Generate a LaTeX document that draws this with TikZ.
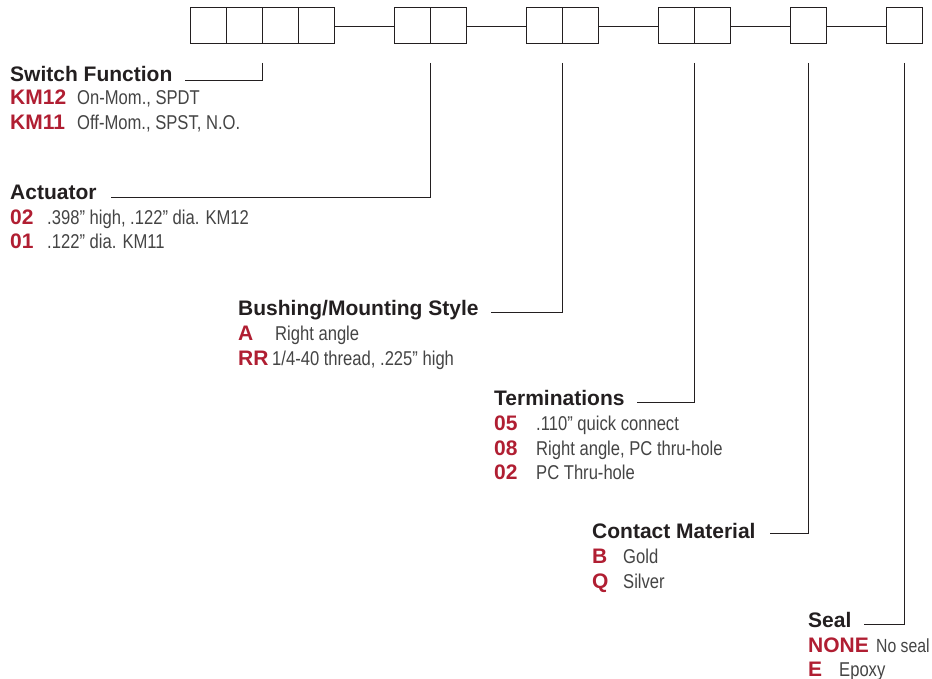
\documentclass[tikz,border=0pt]{standalone}
\usepackage{fontspec}
\setmainfont{Liberation Sans}
\newfontfamily\narrowfont[FakeStretch=0.83]{Liberation Sans}
\usepackage{xcolor}
\usepackage{tikz}
\definecolor{codered}{HTML}{B01E32}
\definecolor{inkgray}{HTML}{231F20}
\definecolor{descgray}{HTML}{444444}
\tikzset{
  box/.style={draw=inkgray, line width=1pt, minimum width=36pt, minimum height=36pt, inner sep=0pt, outer sep=0pt},
  head/.style={anchor=base west, inner sep=0pt, font=\fontsize{21}{24}\selectfont\bfseries, text=inkgray},
  code/.style={anchor=base west, inner sep=0pt, font=\fontsize{21}{24}\selectfont\bfseries, text=codered},
  desc/.style={anchor=base west, inner sep=0pt, font=\fontsize{20}{24}\selectfont\narrowfont, text=descgray},
  lead/.style={draw=inkgray, line width=0.9pt},
}

\begin{document}
\begin{tikzpicture}[x=1pt,y=-1pt]
    \useasboundingbox (0,0) rectangle (932,679);
    \foreach \n/\x in {1/208,2/244,3/280,4/316,5/412,6/448,7/544,8/580,9/676,10/712,11/808,12/904}
        \node[box] (b\n) at (\x,26) {};
    \draw[lead] (b4.east) -- (b5.west);
    \draw[lead] (b6.east) -- (b7.west);
    \draw[lead] (b8.east) -- (b9.west);
    \draw[lead] (b10.east) -- (b11.west);
    \draw[lead] (b11.east) -- (b12.west);
    \coordinate (t1) at ([yshift=-19pt]b2.south east);
    \coordinate (t2) at ([yshift=-19pt]b5.south east);
    \coordinate (t3) at ([yshift=-19pt]b7.south east);
    \coordinate (t4) at ([yshift=-19pt]b9.south east);
    \coordinate (t5) at ([yshift=-19pt]b11.south);
    \coordinate (t6) at ([yshift=-19pt]b12.south);
    % switch function
    \node[head] (sw) at (10,82) {Switch Function};
    \node[code] (sw1) at (10,105) {KM12};
    \node[desc] (sw1d) at (77,105) {On-Mom., SPDT};
    \node[code] (sw2) at (10,130) {KM11};
    \node[desc] (sw2d) at (77,130) {Off-Mom., SPST, N.O.};
    % actuator
    \node[head] (act) at (10,200) {Actuator};
    \node[code] (act1) at (10,225) {02};
    \node[desc] (act1d) at (47,225) {.398” high, .122” dia. KM12};
    \node[code] (act2) at (10,249) {01};
    \node[desc] (act2d) at (47,249) {.122” dia. KM11};
    % bushing
    \node[head] (bush) at (238,315) {Bushing/Mounting Style};
    \node[code] (bush1) at (238,340) {A};
    \node[desc] (bush1d) at (275,340) {Right angle};
    \node[code] (bush2) at (238,365) {RR};
    \node[desc] (bush2d) at (272,365) {1/4-40 thread, .225” high};
    % terminations
    \node[head] (term) at (494,405) {Terminations};
    \node[code] (term1) at (494,430) {05};
    \node[desc] (term1d) at (536,430) {.110” quick connect};
    \node[code] (term2) at (494,455) {08};
    \node[desc] (term2d) at (536,455) {Right angle, PC thru-hole};
    \node[code] (term3) at (494,479) {02};
    \node[desc] (term3d) at (536,479) {PC Thru-hole};
    % contact material
    \node[head] (cont) at (592,538) {Contact Material};
    \node[code] (cont1) at (592,563) {B};
    \node[desc] (cont1d) at (623,563) {Gold};
    \node[code] (cont2) at (592,588) {Q};
    \node[desc] (cont2d) at (623,588) {Silver};
    % seal
    \node[head] (seal) at (808,627) {Seal};
    \node[code] (seal1) at (808,652) {NONE};
    \node[desc, font=\fontsize{19}{24}\selectfont\narrowfont] (seal1d) at (876,652) {No seal};
    \node[code] (seal2) at (808,676) {E};
    \node[desc] (seal2d) at (839,676) {Epoxy};
    \draw[lead] (t1) |- ([xshift=12pt,yshift=2pt]sw.base east);
    \draw[lead] (t2) |- ([xshift=14pt,yshift=3pt]act.base east);
    \draw[lead] (t3) |- ([xshift=12pt,yshift=3pt]bush.base east);
    \draw[lead] (t4) |- ([xshift=12pt,yshift=3pt]term.base east);
    \draw[lead] (t5) |- ([xshift=14pt,yshift=5pt]cont.base east);
    \draw[lead] (t6) |- ([xshift=12pt,yshift=3pt]seal.base east);
\end{tikzpicture}
\end{document}
